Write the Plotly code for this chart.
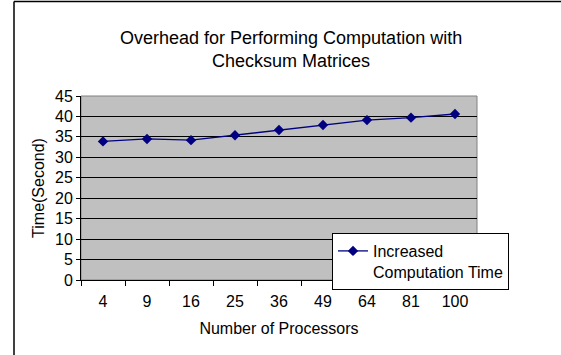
import plotly.graph_objects as go

processors = ["4", "9", "16", "25", "36", "49", "64", "81", "100"]
times = [33.9, 34.5, 34.2, 35.4, 36.7, 37.9, 39.1, 39.7, 40.6]
y_ticks = [0, 5, 10, 15, 20, 25, 30, 35, 40, 45]

FONT = "Liberation Sans, Arial, sans-serif"

fig = go.Figure()
fig.add_trace(go.Scatter(
    x=processors, y=times, mode="lines+markers",
    name="Increased<br>Computation Time",
    line=dict(color="#000080", width=1.3),
    marker=dict(symbol="diamond", size=8, color="#000080"),
))

L, R, T, B = 81, 84, 96, 75
W, H = 561, 355
pw, ph = W - L - R, H - T - B

fig.update_layout(
    width=W, height=H,
    margin=dict(l=L, r=R, t=T, b=B),
    paper_bgcolor="white",
    plot_bgcolor="#C0C0C0",
    font=dict(family=FONT, size=16, color="black"),
    showlegend=True,
    legend=dict(
        x=(332 - L) / pw, xanchor="left",
        y=(H - B - 233) / ph, yanchor="top",
        bgcolor="white", bordercolor="black", borderwidth=1,
        font=dict(size=16, family=FONT),
        valign="top",
        tracegroupgap=0,
    ),
    xaxis=dict(
        type="category",
        range=[-0.5, 8.5],
        tickson="boundaries",
        ticks="outside", ticklen=5, tickcolor="black",
        ticklabelstandoff=7,
        showline=True, linecolor="black", linewidth=1,
        showgrid=False,
        title=dict(text="Number of Processors", font=dict(size=16), standoff=13),
        tickfont=dict(size=16),
    ),
    yaxis=dict(
        range=[0, 45],
        tickvals=y_ticks,
        ticks="outside", ticklen=4, tickcolor="black",
        showline=True, linecolor="black", linewidth=1,
        showgrid=True, gridcolor="black", gridwidth=1,
        zeroline=False,
        title=dict(text="Time(Second)", font=dict(size=16), standoff=6),
        tickfont=dict(size=16),
    ),
    annotations=[
        dict(text="Overhead for Performing Computation with<br>Checksum Matrices",
             xref="paper", yref="paper",
             x=(291 - L) / pw, xanchor="center",
             y=(H - B - 26) / ph, yanchor="top",
             showarrow=False, align="center",
             font=dict(size=18, family=FONT, color="black")),
    ],
    shapes=[
        dict(type="rect", xref="paper", yref="paper", x0=0, x1=1, y0=0, y1=1,
             line=dict(color="#808080", width=1), layer="below"),
        dict(type="line", xref="paper", yref="paper",
             x0=(14 - L) / pw, x1=(14 - L) / pw, y0=-0.5, y1=(H - B - 1.5) / ph,
             line=dict(color="black", width=1.5)),
        dict(type="line", xref="paper", yref="paper",
             x0=(14 - L) / pw, x1=1.3, y0=(H - B - 1.5) / ph, y1=(H - B - 1.5) / ph,
             line=dict(color="black", width=1.5)),
    ],
)

fig.write_html("out.html")
